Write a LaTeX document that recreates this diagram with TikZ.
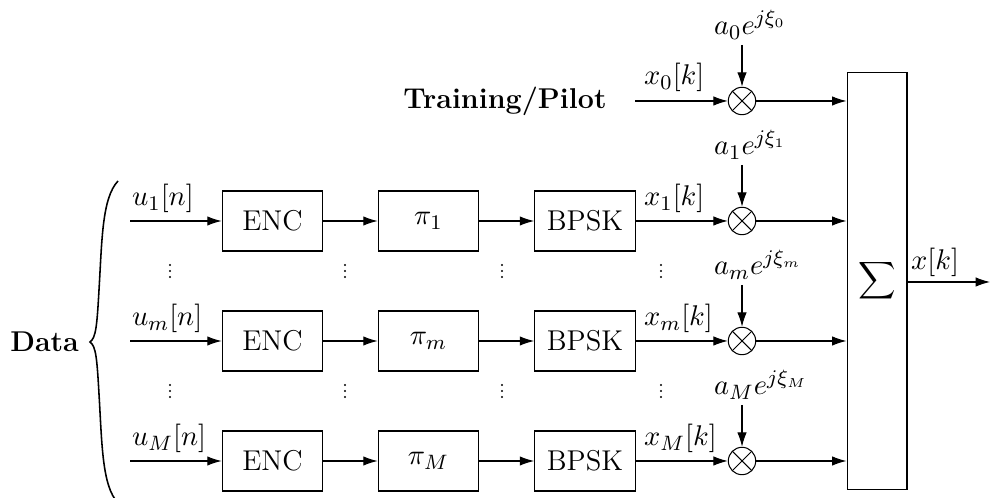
\documentclass[tikz,border=0pt]{standalone}
\usetikzlibrary{arrows.meta}
\begin{document}
\begin{tikzpicture}[x=0.0135cm,y=-0.0135cm,
  every node/.append style={font=\fontsize{11}{13}\selectfont},
  blk/.style={draw,minimum width=1.36cm,minimum height=0.81cm,inner sep=0pt},
  mult/.style={draw,circle,minimum size=0.37cm,inner sep=0pt,
    path picture={\draw (path picture bounding box.north west)--(path picture bounding box.south east)
      (path picture bounding box.north east)--(path picture bounding box.south west);}},
  arr/.style={-{Latex[length=5.5pt,width=3.6pt]}},
  lbl/.style={inner sep=1pt},
  dotmark/.style={fill,circle,inner sep=0pt,minimum size=0.028cm}]
\useasboundingbox (0,0) rectangle (993,498);
% sum box
\node[draw,minimum width=0.81cm,minimum height=5.62cm,inner sep=0pt,font=\fontsize{10}{12}\selectfont] (sum) at (877,281) {$\displaystyle\sum$};
% pilot row
\node[lbl] (train) at (505,101) {\textbf{Training/Pilot}};
\coordinate (p0) at (635,101);
\node[mult] (m0) at (742,101) {};
\node[lbl,anchor=base west] (a0) at (711,35) {$a_0e^{j\xi_0}$};
\node[lbl,anchor=base west] at (641,85) {$x_0[k]$};
\draw[arr] (p0) -- (m0);
\draw[arr] (742,45) -- (m0);
\draw[arr] (m0) -- (m0 -| sum.west);
% data rows
\foreach \y/\s/\r in {221/1/1, 341/m/2, 461/M/3}{
  \coordinate (u\r) at (130,\y);
  \node[blk] (enc\r) at (272.5,\y) {ENC};
  \node[blk] (pi\r) at (428.5,\y) {$\pi_\s$};
  \node[blk] (bp\r) at (585,\y) {BPSK};
  \node[mult] (m\r) at (742,\y) {};
  \node[lbl,anchor=base west] at (129,\y-15) {$u_\s[n]$};
  \node[lbl,anchor=base west] at (641,\y-15) {$x_\s[k]$};
  \node[lbl,anchor=base west] (a\r) at (711,\y-66) {$a_\s e^{j\xi_\s}$};
  \coordinate (t\r) at (742,\y-56);
  \draw[arr] (u\r) -- (enc\r);
  \draw[arr] (enc\r) -- (pi\r);
  \draw[arr] (pi\r) -- (bp\r);
  \draw[arr] (bp\r) -- (m\r);
  \draw[arr] (t\r) -- (m\r);
  \draw[arr] (m\r) -- (m\r -| sum.west);
}
% vertical dots
\foreach \x in {170,345,502,661}{
  \foreach \yy in {265,271,277,385,391,397}{
    \node[dotmark] at (\x,\yy) {};
  }
}
% output
\coordinate (out) at (990,282);
\draw[arr] (sum.east |- out) -- (out);
\node[lbl,anchor=base west] at (908,270) {$x[k]$};
% brace
\draw[line width=0.6pt] (118,181) .. controls (102,198) and (102,240) .. (99,290)
  .. controls (97,325) and (96,338) .. (90,342)
  .. controls (96,346) and (97,359) .. (99,394)
  .. controls (102,444) and (102,486) .. (118,503);
\node[lbl,anchor=east] (data) at (82,342) {\textbf{Data}};
\end{tikzpicture}
\end{document}
